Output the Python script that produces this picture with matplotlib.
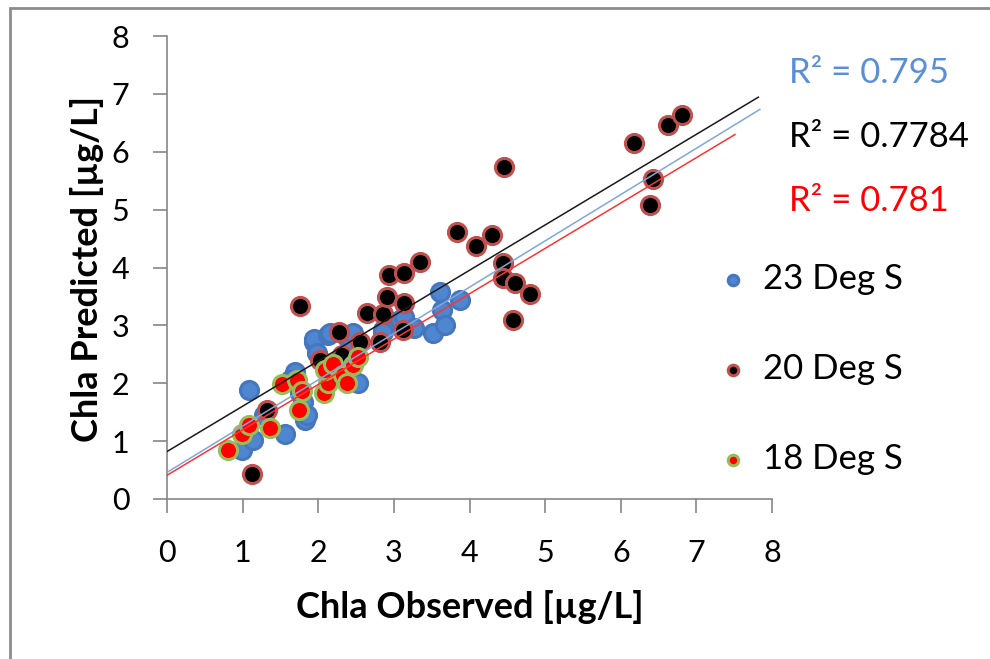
import numpy as np
import matplotlib.pyplot as plt
from matplotlib.patches import Rectangle

plt.rcParams['font.family'] = ['Lato', 'DejaVu Sans']

# 23 Deg S
obs_23 = [0.99, 1.09, 1.14, 1.28, 1.56, 1.69, 1.63, 1.76, 1.80, 1.83, 1.85, 1.94, 1.94, 1.98, 2.13,
          2.16, 2.38, 2.44, 2.46, 2.53, 2.86, 2.86, 3.08, 3.13, 3.26, 3.52, 3.61, 3.63, 3.68, 3.88]
pred_23 = [0.85, 1.88, 1.02, 1.45, 1.13, 2.20, 2.05, 1.83, 1.68, 1.36, 1.45, 2.72, 2.77, 2.52, 2.83,
           2.86, 2.80, 2.72, 2.86, 2.00, 2.92, 2.89, 3.09, 3.15, 2.95, 2.86, 3.58, 3.26, 3.00, 3.44]

# 20 Deg S
obs_20 = [1.12, 1.32, 1.76, 2.02, 2.27, 2.31, 2.55, 2.65, 2.82, 2.86, 2.91, 2.93, 3.13, 3.13, 3.12,
          3.35, 3.84, 4.09, 4.30, 4.46, 4.44, 4.44, 4.60, 4.80, 4.57, 6.18, 6.62, 6.81, 6.42, 6.39]
pred_20 = [0.44, 1.54, 3.33, 2.40, 2.89, 2.49, 2.72, 3.21, 2.72, 3.20, 3.49, 3.87, 3.90, 3.38, 2.92,
           4.09, 4.62, 4.37, 4.56, 5.74, 4.07, 3.81, 3.73, 3.55, 3.09, 6.15, 6.46, 6.63, 5.53, 5.08]

# 18 Deg S
obs_18 = [0.81, 0.99, 1.08, 1.36, 1.52, 1.72, 1.78, 1.74, 2.07, 2.13, 2.09, 2.20, 2.33, 2.38, 2.46, 2.53]
pred_18 = [0.85, 1.13, 1.28, 1.22, 1.98, 2.06, 1.86, 1.54, 1.84, 2.00, 2.23, 2.33, 2.14, 2.00, 2.31, 2.45]

# trendlines (slope, intercept, last x) and R2 labels
slopes = [0.800, 0.783, 0.784]
intercepts = [0.46, 0.82, 0.41]
x_ends = [7.84, 7.82, 7.51]
r2_labels = ['R² = 0.795', 'R² = 0.7784', 'R² = 0.781']

labels = ['23 Deg S', '20 Deg S', '18 Deg S']
face = ['#4F86D0', '#000000', '#FF0000']
edge = ['#4677BE', '#C0504D', '#9BBB59']
line_col = ['#7FA7DC', '#1A1A1A', '#FF3333']
r2_col = ['#5A8FD8', '#000000', '#FF0000']

fig = plt.figure(figsize=(9.9, 6.59), dpi=100)
fig.patches.append(Rectangle((10/990, -0.1), 1.2, 1.1 - 8/659, transform=fig.transFigure,
                             fill=False, edgecolor='#8C8C8C', lw=2))
ax = fig.add_axes([167/990, 1 - 499/659, 605/990, 463/659])

series = [(obs_23, pred_23), (obs_20, pred_20), (obs_18, pred_18)]
handles = []
for i, (x, y) in enumerate(series):
    h = ax.scatter(x, y, s=170, c=face[i], edgecolors=edge[i], linewidths=2.2,
                   zorder=2 + i, label=labels[i])
    handles.append(h)

for i in range(3):
    xx = np.array([0, x_ends[i]])
    ax.plot(xx, slopes[i]*xx + intercepts[i], color=line_col[i], lw=1.1, zorder=6)

ax.set_xlim(0, 8)
ax.set_ylim(0, 8)
ax.set_xticks(range(9))
ax.set_yticks(range(9))
for s in ['top', 'right']:
    ax.spines[s].set_visible(False)
for s in ['left', 'bottom']:
    ax.spines[s].set_color('#868686')
    ax.spines[s].set_linewidth(1.2)
ax.tick_params(direction='out', length=10, width=1.2, color='#868686', labelsize=22)
ax.tick_params(axis='y', pad=17)
ax.tick_params(axis='x', pad=19)
ax.set_xlabel('Chla Observed [µg/L]', fontsize=26, fontweight='bold')
ax.set_ylabel('Chla Predicted [µg/L]', fontsize=26, fontweight='bold')
ax.xaxis.set_label_coords(0.5, -0.197)
ax.yaxis.set_label_coords(-0.104, 0.497)

for i, yy in enumerate([73, 137, 201]):
    fig.text(789/990, 1 - yy/659, r2_labels[i], color=r2_col[i], fontsize=25,
             ha='left', va='center')

fig.legend(handles=handles, loc='upper left', bbox_to_anchor=(705/990, 1 - 249/659),
           frameon=False, fontsize=25, markerscale=0.58, labelspacing=1.67,
           handlelength=0.8, handletextpad=0.46, borderaxespad=0)

fig.savefig('out.png', dpi=100)
